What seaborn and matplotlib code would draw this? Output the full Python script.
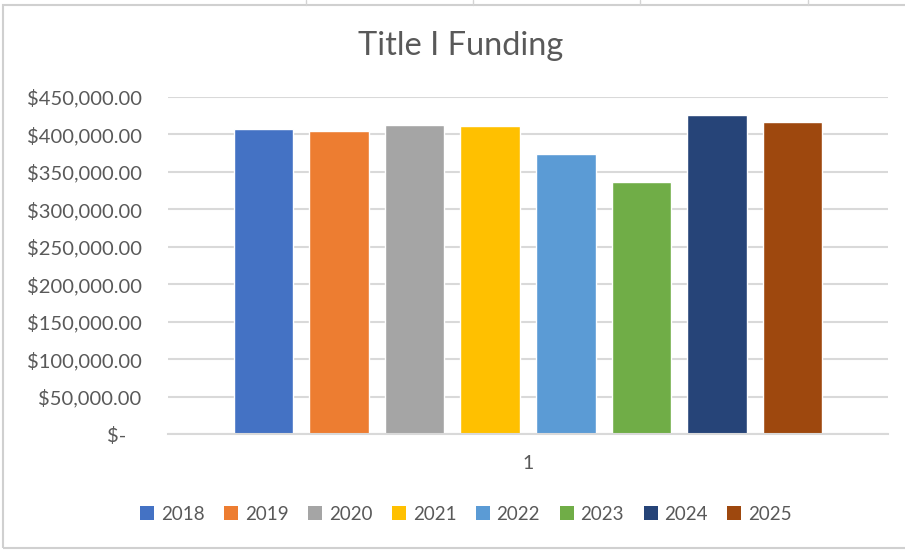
import matplotlib
matplotlib.use("Agg")
import matplotlib.pyplot as plt
import matplotlib.patches as mpatches
import matplotlib.lines as mlines
from matplotlib.ticker import FuncFormatter, MultipleLocator
import seaborn as sns
import pandas as pd

# ---- data ----
years = ["2018", "2019", "2020", "2021", "2022", "2023", "2024", "2025"]
funding = [407500, 404000, 412500, 411000, 374000, 336500, 426000, 416000]
category = ["1"] * len(years)
colors = ["#4472C4", "#ED7D31", "#A5A5A5", "#FFC000",
          "#5B9BD5", "#70AD47", "#264478", "#9E480E"]
title = "Title I Funding"

df = pd.DataFrame({"cat": category, "year": years, "value": funding})

sns.set_theme(style="white")
plt.rcParams["font.family"] = ["Lato", "DejaVu Sans"]
txt = "#595959"

W, H = 905, 551
fig = plt.figure(figsize=(W / 100, H / 100), dpi=100)
fig.patch.set_facecolor("white")

# spreadsheet cell borders / chart frame
for xp in [306, 473, 640, 808]:
    fig.add_artist(mlines.Line2D([xp / W, xp / W], [1 - 0 / H, 1 - 5 / H],
                                 color="#d4d4d4", lw=1, transform=fig.transFigure))
fig.add_artist(mpatches.Rectangle((3 / W, 3 / H), 1.2, 1 - 8 / H,
                                  transform=fig.transFigure, fill=False,
                                  edgecolor="#d0d0d0", lw=1.5))

ax = fig.add_axes([168 / W, 1 - 434 / H, (888 - 168) / W, (434 - 97) / H])
sns.barplot(data=df, x="cat", y="value", hue="year", palette=colors,
            width=0.84, gap=0.21, ax=ax, legend=False, saturation=1)

ax.set_ylim(0, 450000)
ax.set_xlim(-0.5, 0.5)
ax.yaxis.set_major_locator(MultipleLocator(50000))
ax.yaxis.set_major_formatter(FuncFormatter(
    lambda v, p: "$-   " if v == 0 else f"${v:,.2f}"))
ax.grid(axis="y", color="#d9d9d9", lw=1.5)
ax.set_axisbelow(True)
for s in ["top", "right", "left"]:
    ax.spines[s].set_visible(False)
ax.spines["bottom"].set_color("#d9d9d9")
ax.spines["bottom"].set_linewidth(1.5)
ax.tick_params(axis="y", length=0, pad=19, labelsize=14.5, labelcolor=txt)
ax.tick_params(axis="x", length=0, pad=15, labelsize=14, labelcolor=txt)
ax.set_xlabel("")
ax.set_ylabel("")

fig.text(461 / W, 1 - 46 / H, title, ha="center", va="center",
         fontsize=23.5, color=txt)

handles = [mpatches.Patch(facecolor=c, edgecolor="none", label=y)
           for c, y in zip(colors, years)]
leg = fig.legend(handles=handles, loc="center", bbox_to_anchor=(466 / W, 1 - 514 / H),
                 ncol=8, frameon=False, fontsize=13.5, handlelength=0.75,
                 handleheight=0.75, handletextpad=0.35, columnspacing=1.05,
                 labelcolor=txt)

fig.savefig("out.png", dpi=100, facecolor="white")
